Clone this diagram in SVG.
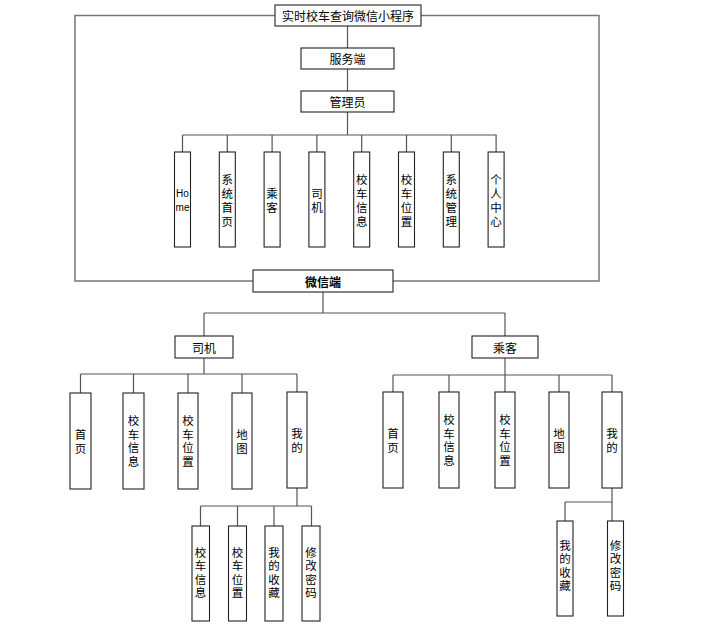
<svg xmlns="http://www.w3.org/2000/svg" width="705" height="628" viewBox="0 0 705 628">
<style>
.b{fill:#fff;stroke:#222;stroke-width:1.1}
.t{font-family:"Noto Sans CJK SC","Liberation Sans",sans-serif;font-size:12px;fill:#000;text-anchor:middle;dominant-baseline:central}
.v{font-size:11.5px}
.en{font-family:"Liberation Sans",sans-serif;font-size:10px}
.bold{font-weight:bold}
.c{fill:none;stroke:#555;stroke-width:1.2}
.f{fill:none;stroke:#777;stroke-width:1.5}
</style>
<rect width="705" height="628" fill="#fff"/>
<g id="connectors">
<polyline class="f" points="275,15.5 75,15.5 75,281 253,281"/>
<polyline class="f" points="421,15.5 599,15.5 599,281 393,281"/>
<line class="c" x1="347.5" y1="26" x2="347.5" y2="48"/>
<line class="c" x1="347.5" y1="69" x2="347.5" y2="91"/>
<line class="c" x1="347.5" y1="112" x2="347.5" y2="135"/>
<line class="c" x1="182.5" y1="135" x2="496.5" y2="135"/>
<path class="c" d="M182.5,135V152M227.3,135V152M272.1,135V152M316.9,135V152M361.7,135V152M406.5,135V152M451.3,135V152M496.1,135V152"/>
<line class="c" x1="323" y1="292" x2="323" y2="313"/>
<line class="c" x1="204" y1="313" x2="505" y2="313"/>
<path class="c" d="M204,313V336M505,313V336"/>
<line class="c" x1="204" y1="358" x2="204" y2="374"/>
<line class="c" x1="80.5" y1="374" x2="297" y2="374"/>
<path class="c" d="M80.5,374V393M133.5,374V393M188,374V393M242,374V393M297,374V392"/>
<line class="c" x1="297" y1="488" x2="297" y2="506"/>
<line class="c" x1="200.5" y1="506" x2="311.5" y2="506"/>
<path class="c" d="M200.5,506V526M237.5,506V526M274,506V526M311.5,506V526"/>
<line class="c" x1="505" y1="358" x2="505" y2="375"/>
<line class="c" x1="393" y1="375" x2="612" y2="375"/>
<path class="c" d="M393,375V392M449,375V392M505,375V392M559,375V392M612,375V392"/>
<line class="c" x1="612" y1="488" x2="612" y2="502"/>
<line class="c" x1="565" y1="502" x2="612" y2="502"/>
<path class="c" d="M565,502V521M612,502V521"/>
</g>
<g id="root"><rect class="b" x="275" y="5" width="146" height="21"/><text class="t" x="348" y="15.5">实时校车查询微信小程序</text></g>
<g id="server"><rect class="b" x="301" y="48" width="93" height="21"/><text class="t" x="347.5" y="58.5">服务端</text></g>
<g id="admin"><rect class="b" x="301" y="91" width="93" height="21"/><text class="t" x="347.5" y="101.5">管理员</text></g>
<g id="a-home"><rect class="b" x="174.5" y="152" width="16" height="95"/><text class="t en" x="182.5" y="192.5"><tspan x="182.5">Ho</tspan><tspan x="182.5" dy="14">me</tspan></text></g>
<g id="a-sys-home"><rect class="b" x="219.3" y="152" width="16" height="95"/><text class="t v" x="227.3" y="178.5"><tspan x="227.3">系</tspan><tspan x="227.3" dy="14">统</tspan><tspan x="227.3" dy="14">首</tspan><tspan x="227.3" dy="14">页</tspan></text></g>
<g id="a-passenger"><rect class="b" x="264.1" y="152" width="16" height="95"/><text class="t v" x="272.1" y="192.5"><tspan x="272.1">乘</tspan><tspan x="272.1" dy="14">客</tspan></text></g>
<g id="a-driver"><rect class="b" x="308.9" y="152" width="16" height="95"/><text class="t v" x="316.9" y="192.5"><tspan x="316.9">司</tspan><tspan x="316.9" dy="14">机</tspan></text></g>
<g id="a-businfo"><rect class="b" x="353.7" y="152" width="16" height="95"/><text class="t v" x="361.7" y="178.5"><tspan x="361.7">校</tspan><tspan x="361.7" dy="14">车</tspan><tspan x="361.7" dy="14">信</tspan><tspan x="361.7" dy="14">息</tspan></text></g>
<g id="a-buspos"><rect class="b" x="398.5" y="152" width="16" height="95"/><text class="t v" x="406.5" y="178.5"><tspan x="406.5">校</tspan><tspan x="406.5" dy="14">车</tspan><tspan x="406.5" dy="14">位</tspan><tspan x="406.5" dy="14">置</tspan></text></g>
<g id="a-sysmgmt"><rect class="b" x="443.3" y="152" width="16" height="95"/><text class="t v" x="451.3" y="178.5"><tspan x="451.3">系</tspan><tspan x="451.3" dy="14">统</tspan><tspan x="451.3" dy="14">管</tspan><tspan x="451.3" dy="14">理</tspan></text></g>
<g id="a-center"><rect class="b" x="488.1" y="152" width="16" height="95"/><text class="t v" x="496.1" y="178.5"><tspan x="496.1">个</tspan><tspan x="496.1" dy="14">人</tspan><tspan x="496.1" dy="14">中</tspan><tspan x="496.1" dy="14">心</tspan></text></g>
<g id="wechat"><rect class="b" x="253" y="270" width="140" height="22"/><text class="t bold" x="323" y="281">微信端</text></g>
<g id="driver"><rect class="b" x="175" y="336" width="58" height="22"/><text class="t" x="204" y="347">司机</text></g>
<g id="passenger"><rect class="b" x="472" y="336" width="66" height="22"/><text class="t" x="505" y="347">乘客</text></g>
<g id="d-home"><rect class="b" x="70" y="393" width="21" height="96"/><text class="t v" x="80.5" y="434"><tspan x="80.5">首</tspan><tspan x="80.5" dy="13.7">页</tspan></text></g>
<g id="d-businfo"><rect class="b" x="123" y="393" width="21" height="96"/><text class="t v" x="133.5" y="420"><tspan x="133.5">校</tspan><tspan x="133.5" dy="13.7">车</tspan><tspan x="133.5" dy="13.7">信</tspan><tspan x="133.5" dy="13.7">息</tspan></text></g>
<g id="d-buspos"><rect class="b" x="178" y="393" width="20" height="96"/><text class="t v" x="188" y="420"><tspan x="188">校</tspan><tspan x="188" dy="13.7">车</tspan><tspan x="188" dy="13.7">位</tspan><tspan x="188" dy="13.7">置</tspan></text></g>
<g id="d-map"><rect class="b" x="232" y="393" width="20" height="96"/><text class="t v" x="242" y="434"><tspan x="242">地</tspan><tspan x="242" dy="13.7">图</tspan></text></g>
<g id="d-mine"><rect class="b" x="287" y="392" width="20" height="96"/><text class="t v" x="297" y="433"><tspan x="297">我</tspan><tspan x="297" dy="13.7">的</tspan></text></g>
<g id="d-m-businfo"><rect class="b" x="192" y="526" width="17.5" height="95"/><text class="t v" x="200.5" y="552"><tspan x="200.5">校</tspan><tspan x="200.5" dy="13.4">车</tspan><tspan x="200.5" dy="13.4">信</tspan><tspan x="200.5" dy="13.4">息</tspan></text></g>
<g id="d-m-buspos"><rect class="b" x="228.5" y="526" width="18" height="95"/><text class="t v" x="237.5" y="552"><tspan x="237.5">校</tspan><tspan x="237.5" dy="13.4">车</tspan><tspan x="237.5" dy="13.4">位</tspan><tspan x="237.5" dy="13.4">置</tspan></text></g>
<g id="d-m-fav"><rect class="b" x="265" y="526" width="18" height="95"/><text class="t v" x="274" y="552"><tspan x="274">我</tspan><tspan x="274" dy="13.4">的</tspan><tspan x="274" dy="13.4">收</tspan><tspan x="274" dy="13.4">藏</tspan></text></g>
<g id="d-m-pwd"><rect class="b" x="302" y="526" width="18" height="95"/><text class="t v" x="311" y="552"><tspan x="311">修</tspan><tspan x="311" dy="13.4">改</tspan><tspan x="311" dy="13.4">密</tspan><tspan x="311" dy="13.4">码</tspan></text></g>
<g id="p-home"><rect class="b" x="383" y="392" width="20" height="96"/><text class="t v" x="393" y="433"><tspan x="393">首</tspan><tspan x="393" dy="13.7">页</tspan></text></g>
<g id="p-businfo"><rect class="b" x="439" y="392" width="20" height="96"/><text class="t v" x="449" y="419"><tspan x="449">校</tspan><tspan x="449" dy="13.7">车</tspan><tspan x="449" dy="13.7">信</tspan><tspan x="449" dy="13.7">息</tspan></text></g>
<g id="p-buspos"><rect class="b" x="495" y="392" width="20" height="96"/><text class="t v" x="505" y="419"><tspan x="505">校</tspan><tspan x="505" dy="13.7">车</tspan><tspan x="505" dy="13.7">位</tspan><tspan x="505" dy="13.7">置</tspan></text></g>
<g id="p-map"><rect class="b" x="549" y="392" width="20" height="96"/><text class="t v" x="559" y="433"><tspan x="559">地</tspan><tspan x="559" dy="13.7">图</tspan></text></g>
<g id="p-mine"><rect class="b" x="602" y="392" width="20" height="96"/><text class="t v" x="612" y="433"><tspan x="612">我</tspan><tspan x="612" dy="13.7">的</tspan></text></g>
<g id="p-m-fav"><rect class="b" x="557" y="521" width="16" height="95"/><text class="t v" x="565" y="545"><tspan x="565">我</tspan><tspan x="565" dy="13.4">的</tspan><tspan x="565" dy="13.4">收</tspan><tspan x="565" dy="13.4">藏</tspan></text></g>
<g id="p-m-pwd"><rect class="b" x="607.5" y="521" width="16" height="95"/><text class="t v" x="615.5" y="545"><tspan x="615.5">修</tspan><tspan x="615.5" dy="13.4">改</tspan><tspan x="615.5" dy="13.4">密</tspan><tspan x="615.5" dy="13.4">码</tspan></text></g>
</svg>
